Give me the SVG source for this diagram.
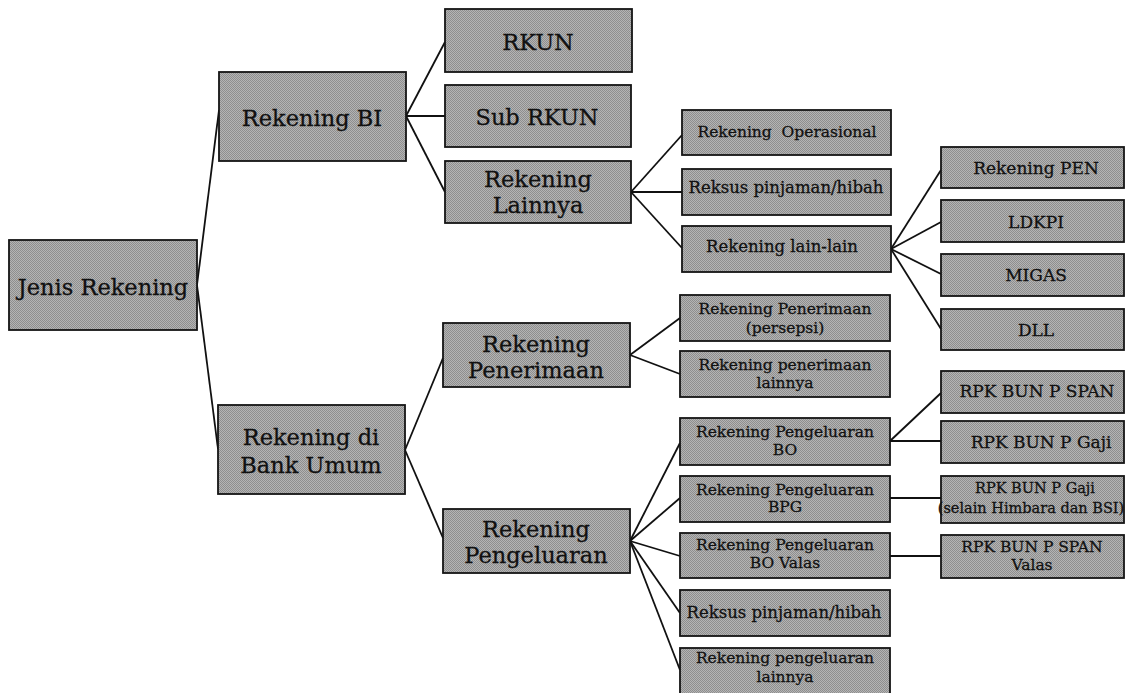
<svg xmlns="http://www.w3.org/2000/svg" width="1126" height="693" viewBox="0 0 1126 693">
  <defs>
    <!-- fine halftone-style fill used by every box -->
    <pattern id="dither" width="2" height="2" patternUnits="userSpaceOnUse">
      <rect width="2" height="2" fill="#b4b4b4"/>
      <rect width="1" height="1" fill="#8e8e8e"/>
      <rect x="1" y="1" width="1" height="1" fill="#8e8e8e"/>
    </pattern>
    <style>
      .box { fill: url(#dither); stroke: #141414; stroke-width: 1.8; }
      .t { font-family: "DejaVu Serif", "Liberation Serif", serif; fill: #111; stroke: #111; stroke-width: 0.3; text-anchor: middle; }
      .l1 { font-size: 22.5px; }
      .l2 { font-size: 22.5px; }
      .l3 { font-size: 15.5px; }
      .l4 { font-size: 17px; }
      .l4s { font-size: 14.5px; }
      .links line { stroke: #111; stroke-width: 1.8; }
    </style>
  </defs>
  <rect width="1126" height="693" fill="#ffffff"/>

  <!-- connectors -->
  <g class="links">
    <line x1="197" y1="285" x2="219" y2="110"/>
    <line x1="197" y1="285" x2="218" y2="449"/>
    <line x1="406" y1="116" x2="445" y2="42"/>
    <line x1="406" y1="116" x2="445" y2="116"/>
    <line x1="406" y1="116" x2="445" y2="192"/>
    <line x1="631" y1="192" x2="682" y2="135"/>
    <line x1="631" y1="192" x2="682" y2="192"/>
    <line x1="631" y1="192" x2="682" y2="248"/>
    <line x1="891" y1="249" x2="941" y2="170"/>
    <line x1="891" y1="249" x2="941" y2="222"/>
    <line x1="891" y1="249" x2="941" y2="274"/>
    <line x1="891" y1="249" x2="941" y2="329"/>
    <line x1="405" y1="450" x2="443" y2="358"/>
    <line x1="405" y1="450" x2="443" y2="538"/>
    <line x1="630" y1="355" x2="680" y2="318"/>
    <line x1="630" y1="355" x2="680" y2="374"/>
    <line x1="630" y1="541" x2="680" y2="443"/>
    <line x1="630" y1="541" x2="680" y2="498"/>
    <line x1="630" y1="541" x2="680" y2="556"/>
    <line x1="630" y1="541" x2="680" y2="613"/>
    <line x1="630" y1="541" x2="680" y2="670"/>
    <line x1="890" y1="441" x2="941" y2="393"/>
    <line x1="890" y1="441" x2="941" y2="441"/>
    <line x1="890" y1="498" x2="941" y2="498"/>
    <line x1="890" y1="556" x2="941" y2="556"/>
  </g>

  <!-- root -->
  <g id="jenis-rekening">
    <rect class="box" x="9" y="240" width="188" height="90"/>
    <text class="t l1" x="103" y="295">Jenis Rekening</text>
  </g>

  <!-- level 1 -->
  <g id="rekening-bi">
    <rect class="box" x="219" y="72" width="187" height="89"/>
    <text class="t l1" x="312" y="126">Rekening BI</text>
  </g>
  <g id="rekening-bank-umum">
    <rect class="box" x="218" y="405" width="187" height="89"/>
    <text class="t l1" x="311" y="445">Rekening di</text>
    <text class="t l1" x="311" y="473">Bank Umum</text>
  </g>

  <!-- level 2 -->
  <g id="rkun">
    <rect class="box" x="445" y="9" width="187" height="63"/>
    <text class="t l2" x="538" y="50">RKUN</text>
  </g>
  <g id="sub-rkun">
    <rect class="box" x="445" y="85" width="186" height="62"/>
    <text class="t l2" x="537" y="125">Sub RKUN</text>
  </g>
  <g id="rekening-lainnya">
    <rect class="box" x="445" y="161" width="186" height="62"/>
    <text class="t l2" x="538" y="187">Rekening</text>
    <text class="t l2" x="538" y="213">Lainnya</text>
  </g>
  <g id="rekening-penerimaan">
    <rect class="box" x="443" y="323" width="187" height="64"/>
    <text class="t l2" x="536" y="352">Rekening</text>
    <text class="t l2" x="536" y="378">Penerimaan</text>
  </g>
  <g id="rekening-pengeluaran">
    <rect class="box" x="443" y="509" width="187" height="64"/>
    <text class="t l2" x="536" y="537">Rekening</text>
    <text class="t l2" x="536" y="563">Pengeluaran</text>
  </g>

  <!-- level 3 -->
  <g id="rekening-operasional">
    <rect class="box" x="682" y="110" width="209" height="45"/>
    <text class="t l3" x="787" y="137" xml:space="preserve">Rekening  Operasional</text>
  </g>
  <g id="reksus-bi">
    <rect class="box" x="682" y="169" width="209" height="46"/>
    <text class="t l3" x="786" y="193" style="font-size:16.5px">Reksus pinjaman/hibah</text>
  </g>
  <g id="rekening-lain-lain">
    <rect class="box" x="682" y="226" width="209" height="46"/>
    <text class="t l3" x="782" y="252" style="font-size:16.5px">Rekening lain-lain</text>
  </g>
  <g id="penerimaan-persepsi">
    <rect class="box" x="680" y="295" width="210" height="46"/>
    <text class="t l3" x="785" y="314">Rekening Penerimaan</text>
    <text class="t l3" x="785" y="333">(persepsi)</text>
  </g>
  <g id="penerimaan-lainnya">
    <rect class="box" x="680" y="351" width="210" height="46"/>
    <text class="t l3" x="785" y="370">Rekening penerimaan</text>
    <text class="t l3" x="785" y="388">lainnya</text>
  </g>
  <g id="pengeluaran-bo">
    <rect class="box" x="680" y="418" width="210" height="47"/>
    <text class="t l3" x="785" y="437">Rekening Pengeluaran</text>
    <text class="t l3" x="785" y="455">BO</text>
  </g>
  <g id="pengeluaran-bpg">
    <rect class="box" x="680" y="476" width="210" height="46"/>
    <text class="t l3" x="785" y="495">Rekening Pengeluaran</text>
    <text class="t l3" x="785" y="512">BPG</text>
  </g>
  <g id="pengeluaran-bo-valas">
    <rect class="box" x="680" y="533" width="210" height="45"/>
    <text class="t l3" x="785" y="550">Rekening Pengeluaran</text>
    <text class="t l3" x="785" y="568">BO Valas</text>
  </g>
  <g id="reksus-bank">
    <rect class="box" x="680" y="590" width="210" height="46"/>
    <text class="t l3" x="784" y="618" style="font-size:16.5px">Reksus pinjaman/hibah</text>
  </g>
  <g id="pengeluaran-lainnya">
    <rect class="box" x="680" y="648" width="210" height="46"/>
    <text class="t l3" x="785" y="663">Rekening pengeluaran</text>
    <text class="t l3" x="785" y="682">lainnya</text>
  </g>

  <!-- level 4 -->
  <g id="rekening-pen">
    <rect class="box" x="941" y="147" width="183" height="41"/>
    <text class="t l4" x="1036" y="174">Rekening PEN</text>
  </g>
  <g id="ldkpi">
    <rect class="box" x="941" y="200" width="183" height="42"/>
    <text class="t l4" x="1036" y="228">LDKPI</text>
  </g>
  <g id="migas">
    <rect class="box" x="941" y="254" width="183" height="42"/>
    <text class="t l4" x="1036" y="281">MIGAS</text>
  </g>
  <g id="dll">
    <rect class="box" x="941" y="309" width="183" height="41"/>
    <text class="t l4" x="1036" y="336">DLL</text>
  </g>
  <g id="rpk-span">
    <rect class="box" x="941" y="371" width="183" height="42"/>
    <text class="t l4" x="1037" y="397">RPK BUN P SPAN</text>
  </g>
  <g id="rpk-gaji">
    <rect class="box" x="941" y="421" width="183" height="42"/>
    <text class="t l4" x="1041" y="448">RPK BUN P Gaji</text>
  </g>
  <g id="rpk-gaji-selain">
    <rect class="box" x="941" y="476" width="183" height="47"/>
    <text class="t l4s" x="1035" y="493">RPK BUN P Gaji</text>
    <text class="t l4s" x="1031" y="513">(selain Himbara dan BSI)</text>
  </g>
  <g id="rpk-span-valas">
    <rect class="box" x="941" y="535" width="183" height="43"/>
    <text class="t l4s" x="1032" y="552" style="font-size:15.5px">RPK BUN P SPAN</text>
    <text class="t l4s" x="1032" y="570" style="font-size:15.5px">Valas</text>
  </g>
</svg>
